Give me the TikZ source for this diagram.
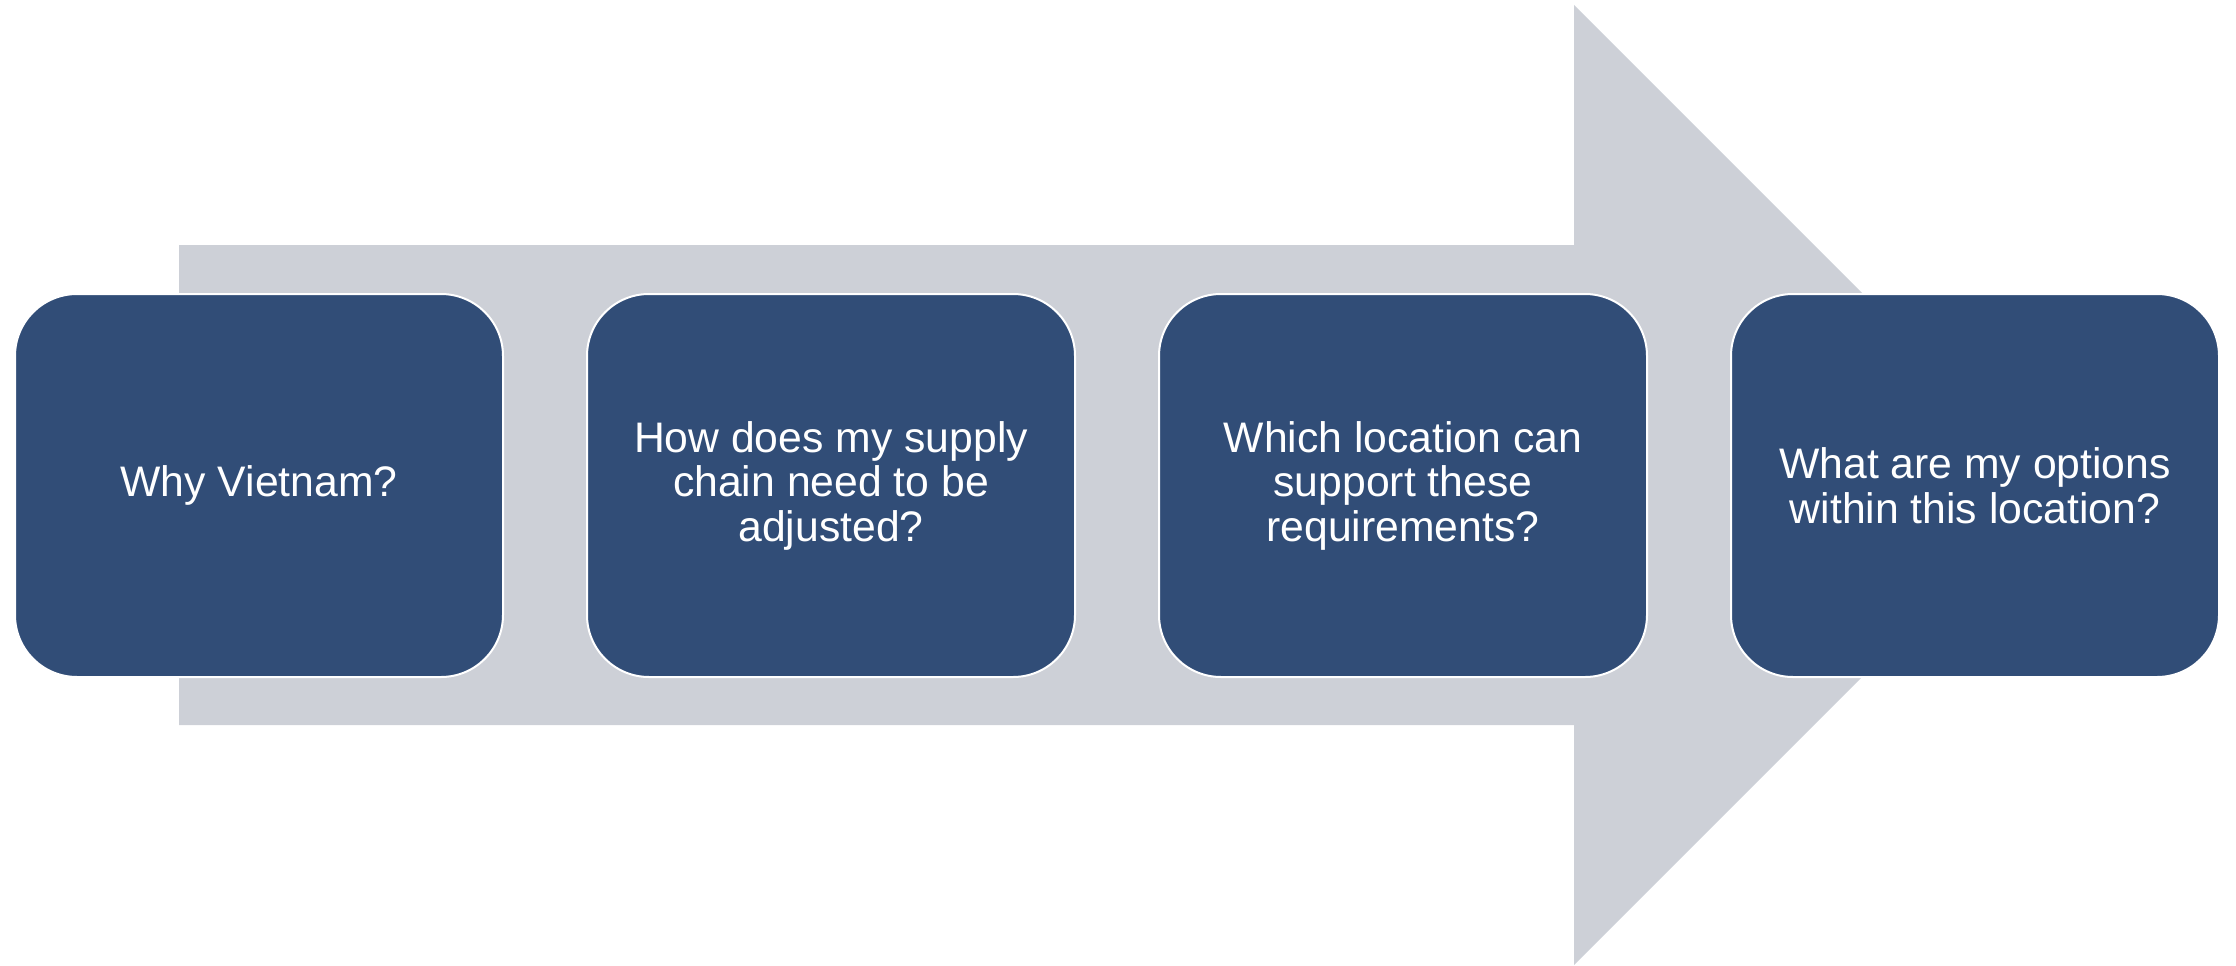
\documentclass[tikz,border=0pt]{standalone}
\usepackage{fontspec}
\setmainfont{Liberation Sans}
\definecolor{boxblue}{HTML}{314D77}
\definecolor{arrowgray}{HTML}{CDD0D7}
\begin{document}
\begin{tikzpicture}[x=1pt,y=-1pt,
  qbox/.style={fill=boxblue, draw=white, line width=2pt, rounded corners=62pt,
    minimum width=488pt, minimum height=383pt, text=white, align=center,
    font=\fontsize{42.7}{44.5}\selectfont, inner sep=0pt}]
\useasboundingbox (0,0) rectangle (2236,966);
\fill[arrowgray] (179,245) -- (1574,245) -- (1574,5) -- (2054,485) -- (1574,965) -- (1574,725) -- (179,725) -- cycle;
\node[qbox] (q1) at (259,485.5) {Why Vietnam?};
\node[qbox] (q2) at (831,485.5) {How does my supply\\chain need to be\\adjusted?};
\node[qbox] (q3) at (1403,485.5) {Which location can\\support these\\requirements?};
\node[qbox] (q4) at (1975,485.5) {What are my options\\within this location?};
\end{tikzpicture}
\end{document}
